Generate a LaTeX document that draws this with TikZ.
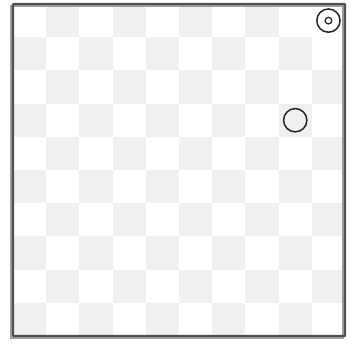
\documentclass[tikz,border=0pt]{standalone}
\usepackage{tikz}
\usetikzlibrary{positioning}
\definecolor{cellgray}{RGB}{240,240,240}
\definecolor{framegray}{RGB}{80,80,80}

\begin{document}
\begin{tikzpicture}[x=1cm, y=-1cm,
    cell/.style={fill=cellgray, draw=none},
    frame/.style={draw=framegray, line width=1.9pt, rounded corners=0.6pt},
    shadowframe/.style={draw=gray!75, line width=1.8pt},
    agent/.style={draw=black!85, circle, line width=1.3pt, minimum size=0.7cm, inner sep=0pt},
    goalmark/.style={draw=black!85, circle, line width=1.1pt, minimum size=0.2cm, inner sep=0pt}]
    \useasboundingbox (-0.39,-0.12) rectangle (10.33,10.24);
    % Checkerboard
    \foreach \row in {0,...,9} {
        \foreach \col in {0,...,9} {
            \pgfmathtruncatemacro{\parity}{mod(\row+\col,2)}
            \ifnum\parity=1
                \ifnum\row=0 \ifnum\col=9 \else
                    \fill[cell] (\col,\row) rectangle ++(1,1);
                \fi \else
                    \fill[cell] (\col,\row) rectangle ++(1,1);
                \fi
            \fi
        }
    }
    % Frame
    \draw[shadowframe] (-0.06,0.07) rectangle (9.94,10.07);
    \draw[frame] (0,0) rectangle (10,10);
    % Goal and agent
    \node[agent] (goal) at (9.5,0.5) {};
    \node[goalmark] (goalmark) at (goal.center) {};
    \node[agent] (agent) at (8.5,3.5) {};
\end{tikzpicture}
\end{document}
